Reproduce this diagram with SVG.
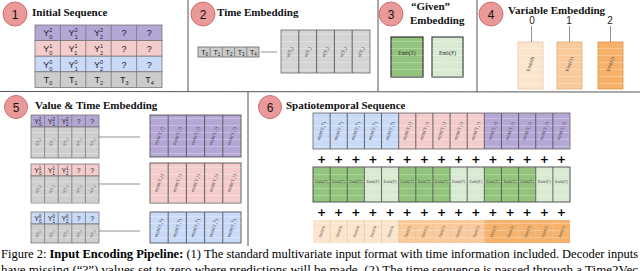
<svg xmlns="http://www.w3.org/2000/svg" width="640" height="271" viewBox="0 0 640 271">
<style>
.ttl{font-family:"Liberation Serif",serif;font-weight:bold;font-size:11px;fill:#111}
.num{font-family:"Liberation Sans",sans-serif;font-size:12px;fill:#111;text-anchor:middle}
.circ{fill:#EA9999;stroke:#C97272;stroke-width:1}
.yv{font-family:"Liberation Sans",sans-serif;font-size:9px;fill:#222}
.ys{font-size:5.5px}
.yq{font-family:"Liberation Sans",sans-serif;font-size:9px;fill:#222;text-anchor:middle}
.sy{font-family:"Liberation Sans",sans-serif;font-size:7px;fill:#222}
.sys{font-size:4.5px}
.sq{font-family:"Liberation Sans",sans-serif;font-size:7px;fill:#222;text-anchor:middle}
.rt{font-family:"Liberation Serif",serif;font-size:5px;fill:#444;text-anchor:middle}
.rts{font-family:"Liberation Serif",serif;font-size:4px;fill:#555;text-anchor:middle}
.et{font-family:"Liberation Serif",serif;font-size:5.5px;fill:#333;text-anchor:middle}
.ets{font-family:"Liberation Serif",serif;font-size:4.2px;fill:#444;text-anchor:middle}
.plus{font-family:"DejaVu Sans",sans-serif;font-weight:bold;font-size:11px;fill:#000;text-anchor:middle}
.div{stroke:#555;stroke-width:1;fill:none}
.cell{stroke:#777;stroke-width:0.8}
.vd{stroke:#555;stroke-width:0.9}
.conn{stroke:#777;stroke-width:0.8;fill:none}
.lab{font-family:"Liberation Sans",sans-serif;font-size:10px;fill:#222;text-anchor:middle}
.cap{font-family:"Liberation Serif",serif;font-size:11.6px;fill:#000}
</style>
<defs>
<pattern id="ln" width="10" height="7" patternUnits="userSpaceOnUse"><line x1="0" y1="6.5" x2="10" y2="6.5" stroke="#ffffff" stroke-opacity="0.45" stroke-width="0.6"/></pattern>
</defs>

<!-- panel dividers -->
<g id="frames">
<line class="div" x1="188" y1="0" x2="188" y2="91.5"/>
<line class="div" x1="378" y1="0" x2="378" y2="91.5"/>
<line class="div" x1="477" y1="0" x2="477" y2="92"/>
<line class="div" x1="0" y1="91.5" x2="640" y2="92"/>
<line class="div" x1="248" y1="91.5" x2="248" y2="246"/>
</g>

<!-- Panel 1 -->
<g id="panel1">
<circle class="circ" cx="15" cy="14" r="12"/><text class="num" x="15" y="18.5">1</text>
<text class="ttl" x="32" y="15.5">Initial Sequence</text>
<g id="table1">
<rect x="35" y="25" width="127" height="15.6" fill="#B4A7D6" class="cell"/>
<rect x="35" y="40.6" width="127" height="15.6" fill="#F4CCCC" class="cell"/>
<rect x="35" y="56.2" width="127" height="15.6" fill="#C9DAF8" class="cell"/>
<rect x="35" y="71.8" width="127" height="15.6" fill="#CCCCCC" class="cell"/>
<line class="cell" x1="60.4" y1="25" x2="60.4" y2="87.4"/>
<line class="cell" x1="85.8" y1="25" x2="85.8" y2="87.4"/>
<line class="cell" x1="111.2" y1="25" x2="111.2" y2="87.4"/>
<line class="cell" x1="136.6" y1="25" x2="136.6" y2="87.4"/>
<text class="yv" x="43.2" y="36.3">Y<tspan class="ys" dy="-4">2</tspan><tspan class="ys" dx="-3" dy="7">0</tspan></text>
<text class="yv" x="68.6" y="36.3">Y<tspan class="ys" dy="-4">2</tspan><tspan class="ys" dx="-3" dy="7">1</tspan></text>
<text class="yv" x="94" y="36.3">Y<tspan class="ys" dy="-4">2</tspan><tspan class="ys" dx="-3" dy="7">2</tspan></text>
<text class="yq" x="123.9" y="36.3">?</text><text class="yq" x="149.3" y="36.3">?</text>
<text class="yv" x="43.2" y="51.9">Y<tspan class="ys" dy="-4">1</tspan><tspan class="ys" dx="-3" dy="7">0</tspan></text>
<text class="yv" x="68.6" y="51.9">Y<tspan class="ys" dy="-4">1</tspan><tspan class="ys" dx="-3" dy="7">1</tspan></text>
<text class="yv" x="94" y="51.9">Y<tspan class="ys" dy="-4">1</tspan><tspan class="ys" dx="-3" dy="7">2</tspan></text>
<text class="yq" x="123.9" y="51.9">?</text><text class="yq" x="149.3" y="51.9">?</text>
<text class="yv" x="43.2" y="67.5">Y<tspan class="ys" dy="-4">0</tspan><tspan class="ys" dx="-3" dy="7">0</tspan></text>
<text class="yv" x="68.6" y="67.5">Y<tspan class="ys" dy="-4">0</tspan><tspan class="ys" dx="-3" dy="7">1</tspan></text>
<text class="yv" x="94" y="67.5">Y<tspan class="ys" dy="-4">0</tspan><tspan class="ys" dx="-3" dy="7">2</tspan></text>
<text class="yq" x="123.9" y="67.5">?</text><text class="yq" x="149.3" y="67.5">?</text>
<text class="yv" x="43.7" y="83">T<tspan class="ys" dy="2">0</tspan></text>
<text class="yv" x="69.1" y="83">T<tspan class="ys" dy="2">1</tspan></text>
<text class="yv" x="94.5" y="83">T<tspan class="ys" dy="2">2</tspan></text>
<text class="yv" x="119.9" y="83">T<tspan class="ys" dy="2">3</tspan></text>
<text class="yv" x="145.3" y="83">T<tspan class="ys" dy="2">4</tspan></text>
</g>
</g>

<!-- Panel 2 -->
<g id="panel2">
<circle class="circ" cx="203" cy="14" r="12"/><text class="num" x="203" y="18.5">2</text>
<text class="ttl" x="217" y="15.5">Time Embedding</text>
<g id="timeSeq">
<rect x="198" y="47" width="61" height="10" fill="#CCCCCC" stroke="#666" stroke-width="0.8"/>
<line class="cell" x1="210.2" y1="47" x2="210.2" y2="57"/>
<line class="cell" x1="222.4" y1="47" x2="222.4" y2="57"/>
<line class="cell" x1="234.6" y1="47" x2="234.6" y2="57"/>
<line class="cell" x1="246.8" y1="47" x2="246.8" y2="57"/>
<text class="sy" x="201.2" y="54.5" font-size="6">T<tspan class="sys" dy="1.5">0</tspan></text>
<text class="sy" x="213.4" y="54.5" font-size="6">T<tspan class="sys" dy="1.5">1</tspan></text>
<text class="sy" x="225.6" y="54.5" font-size="6">T<tspan class="sys" dy="1.5">2</tspan></text>
<text class="sy" x="237.8" y="54.5" font-size="6">T<tspan class="sys" dy="1.5">3</tspan></text>
<text class="sy" x="250" y="54.5" font-size="6">T<tspan class="sys" dy="1.5">4</tspan></text>
</g>
<g id="time2vec">
<rect x="281" y="30" width="89" height="43" fill="#D4D4D4" stroke="#666" stroke-width="0.8"/>
<rect x="281" y="30" width="89" height="43" fill="url(#ln)"/>
<line class="vd" x1="298.8" y1="30" x2="298.8" y2="73"/>
<line class="vd" x1="316.6" y1="30" x2="316.6" y2="73"/>
<line class="vd" x1="334.4" y1="30" x2="334.4" y2="73"/>
<line class="vd" x1="352.2" y1="30" x2="352.2" y2="73"/>
<text class="rt" transform="rotate(-65 289.9 52)" x="289.9" y="53.5">σ(T₀)</text>
<text class="rt" transform="rotate(-65 307.7 52)" x="307.7" y="53.5">σ(T₁)</text>
<text class="rt" transform="rotate(-65 325.5 52)" x="325.5" y="53.5">σ(T₂)</text>
<text class="rt" transform="rotate(-65 343.3 52)" x="343.3" y="53.5">σ(T₃)</text>
<text class="rt" transform="rotate(-65 361.1 52)" x="361.1" y="53.5">σ(T₄)</text>
</g>
</g>

<!-- Panel 3 -->
<g id="panel3">
<circle class="circ" cx="391" cy="14" r="12"/><text class="num" x="391" y="18.5">3</text>
<text class="ttl" x="411" y="10">“Given”</text>
<text class="ttl" x="410" y="23.5">Embedding</text>
<g id="embT"><rect x="391" y="37" width="32" height="40" fill="#93C47D" stroke="#333" stroke-width="1.2"/><rect x="391" y="37" width="32" height="40" fill="url(#ln)"/><text class="et" x="407" y="55">Emb(T)</text></g>
<g id="embF"><rect x="432" y="37" width="31" height="40" fill="#D9EAD3" stroke="#444" stroke-width="1.2"/><rect x="432" y="37" width="31" height="40" fill="url(#ln)"/><text class="et" x="447.5" y="55">Emb(F)</text></g>
</g>

<!-- Panel 4 -->
<g id="panel4">
<circle class="circ" cx="491" cy="14" r="12"/><text class="num" x="491" y="18.5">4</text>
<text class="ttl" x="508" y="14">Variable Embedding</text>
<text class="lab" x="532" y="24">0</text>
<text class="lab" x="569" y="24">1</text>
<text class="lab" x="610" y="24">2</text>
<g id="emb0"><rect x="518" y="42" width="25" height="47" fill="#FCE5CD" stroke="#E8C9A8" stroke-width="0.8"/><rect x="518" y="42" width="25" height="47" fill="url(#ln)"/><text class="rt" transform="rotate(-70 530.5 64)" x="530.5" y="65.5">Emb(0)</text></g>
<g id="emb1"><rect x="557" y="42" width="25" height="47" fill="#F9CB9C" stroke="#E0AC78" stroke-width="0.8"/><rect x="557" y="42" width="25" height="47" fill="url(#ln)"/><text class="rt" transform="rotate(-70 569.5 64)" x="569.5" y="65.5">Emb(1)</text></g>
<g id="emb2"><rect x="598" y="42" width="25" height="47" fill="#F6B26B" stroke="#D9914A" stroke-width="0.8"/><rect x="598" y="42" width="25" height="47" fill="url(#ln)"/><text class="rt" transform="rotate(-70 610.5 64)" x="610.5" y="65.5">Emb(2)</text></g>
</g>

<!-- Panel 5 -->
<g id="panel5">
<circle class="circ" cx="16" cy="107" r="11.5"/><text class="num" x="16" y="111.5">5</text>
<text class="ttl" x="35" y="108.5">Value &amp; Time Embedding</text>
<g id="in2">
<rect x="31" y="115" width="68" height="12" fill="#B4A7D6" class="cell"/>
<rect x="31" y="127" width="68" height="31" fill="#CFCFCF" class="cell"/>
<rect x="31" y="127" width="68" height="31" fill="url(#ln)"/>
<path class="cell" d="M44.6 115V158M58.2 115V158M71.8 115V158M85.4 115V158"/>
<text class="sy" x="34.2" y="123.5">Y<tspan class="sys" dy="-3">2</tspan><tspan class="sys" dx="-2.5" dy="5.5">0</tspan></text>
<text class="sy" x="47.8" y="123.5">Y<tspan class="sys" dy="-3">2</tspan><tspan class="sys" dx="-2.5" dy="5.5">1</tspan></text>
<text class="sy" x="61.4" y="123.5">Y<tspan class="sys" dy="-3">2</tspan><tspan class="sys" dx="-2.5" dy="5.5">2</tspan></text>
<text class="sq" x="78.6" y="123.5">?</text><text class="sq" x="92.2" y="123.5">?</text>
<text class="rts" transform="rotate(-60 37.8 142)" x="37.8" y="143.5">σ(T₀)</text>
<text class="rts" transform="rotate(-60 51.4 142)" x="51.4" y="143.5">σ(T₁)</text>
<text class="rts" transform="rotate(-60 65 142)" x="65" y="143.5">σ(T₂)</text>
<text class="rts" transform="rotate(-60 78.6 142)" x="78.6" y="143.5">σ(T₃)</text>
<text class="rts" transform="rotate(-60 92.2 142)" x="92.2" y="143.5">σ(T₄)</text>
</g>
<g id="in1">
<rect x="31" y="164" width="68" height="12" fill="#F4CCCC" class="cell"/>
<rect x="31" y="176" width="68" height="27" fill="#CFCFCF" class="cell"/>
<rect x="31" y="176" width="68" height="27" fill="url(#ln)"/>
<path class="cell" d="M44.6 164V203M58.2 164V203M71.8 164V203M85.4 164V203"/>
<text class="sy" x="34.2" y="172.5">Y<tspan class="sys" dy="-3">1</tspan><tspan class="sys" dx="-2.5" dy="5.5">0</tspan></text>
<text class="sy" x="47.8" y="172.5">Y<tspan class="sys" dy="-3">1</tspan><tspan class="sys" dx="-2.5" dy="5.5">1</tspan></text>
<text class="sy" x="61.4" y="172.5">Y<tspan class="sys" dy="-3">1</tspan><tspan class="sys" dx="-2.5" dy="5.5">2</tspan></text>
<text class="sq" x="78.6" y="172.5">?</text><text class="sq" x="92.2" y="172.5">?</text>
<text class="rts" transform="rotate(-60 37.8 189)" x="37.8" y="190.5">σ(T₀)</text>
<text class="rts" transform="rotate(-60 51.4 189)" x="51.4" y="190.5">σ(T₁)</text>
<text class="rts" transform="rotate(-60 65 189)" x="65" y="190.5">σ(T₂)</text>
<text class="rts" transform="rotate(-60 78.6 189)" x="78.6" y="190.5">σ(T₃)</text>
<text class="rts" transform="rotate(-60 92.2 189)" x="92.2" y="190.5">σ(T₄)</text>
</g>
<g id="in0">
<rect x="31" y="212" width="68" height="12" fill="#C9DAF8" class="cell"/>
<rect x="31" y="224" width="68" height="19" fill="#CFCFCF" class="cell"/>
<rect x="31" y="224" width="68" height="19" fill="url(#ln)"/>
<path class="cell" d="M44.6 212V243M58.2 212V243M71.8 212V243M85.4 212V243"/>
<text class="sy" x="34.2" y="220.5">Y<tspan class="sys" dy="-3">0</tspan><tspan class="sys" dx="-2.5" dy="5.5">0</tspan></text>
<text class="sy" x="47.8" y="220.5">Y<tspan class="sys" dy="-3">0</tspan><tspan class="sys" dx="-2.5" dy="5.5">1</tspan></text>
<text class="sy" x="61.4" y="220.5">Y<tspan class="sys" dy="-3">0</tspan><tspan class="sys" dx="-2.5" dy="5.5">2</tspan></text>
<text class="sq" x="78.6" y="220.5">?</text><text class="sq" x="92.2" y="220.5">?</text>
<text class="rts" transform="rotate(-60 37.8 233.5)" x="37.8" y="235">σ(T₀)</text>
<text class="rts" transform="rotate(-60 51.4 233.5)" x="51.4" y="235">σ(T₁)</text>
<text class="rts" transform="rotate(-60 65 233.5)" x="65" y="235">σ(T₂)</text>
<text class="rts" transform="rotate(-60 78.6 233.5)" x="78.6" y="235">σ(T₃)</text>
<text class="rts" transform="rotate(-60 92.2 233.5)" x="92.2" y="235">σ(T₄)</text>
</g>
<g id="out2">
<rect x="150" y="115" width="91" height="42" fill="#B4A7D6" stroke="#555" stroke-width="0.9"/>
<rect x="150" y="115" width="91" height="42" fill="url(#ln)"/>
<path class="vd" d="M168.2 115V157M186.4 115V157M204.6 115V157M222.8 115V157"/>
<text class="rt" transform="rotate(-70 159.1 136)" x="159.1" y="137.5">emb(Y₀²)</text>
<text class="rt" transform="rotate(-70 177.3 136)" x="177.3" y="137.5">emb(Y₁²)</text>
<text class="rt" transform="rotate(-70 195.5 136)" x="195.5" y="137.5">emb(Y₂²)</text>
<text class="rt" transform="rotate(-70 213.7 136)" x="213.7" y="137.5">emb(Y₃²)</text>
<text class="rt" transform="rotate(-70 231.9 136)" x="231.9" y="137.5">emb(Y₄²)</text>
</g>
<g id="out1">
<rect x="150" y="163" width="91" height="40" fill="#F4CCCC" stroke="#555" stroke-width="0.9"/>
<rect x="150" y="163" width="91" height="40" fill="url(#ln)"/>
<path class="vd" d="M168.2 163V203M186.4 163V203M204.6 163V203M222.8 163V203"/>
<text class="rt" transform="rotate(-70 159.1 183)" x="159.1" y="184.5">emb(Y₀¹)</text>
<text class="rt" transform="rotate(-70 177.3 183)" x="177.3" y="184.5">emb(Y₁¹)</text>
<text class="rt" transform="rotate(-70 195.5 183)" x="195.5" y="184.5">emb(Y₂¹)</text>
<text class="rt" transform="rotate(-70 213.7 183)" x="213.7" y="184.5">emb(Y₃¹)</text>
<text class="rt" transform="rotate(-70 231.9 183)" x="231.9" y="184.5">emb(Y₄¹)</text>
</g>
<g id="out0">
<rect x="150" y="212" width="91" height="31" fill="#C9DAF8" stroke="#555" stroke-width="0.9"/>
<rect x="150" y="212" width="91" height="31" fill="url(#ln)"/>
<path class="vd" d="M168.2 212V243M186.4 212V243M204.6 212V243M222.8 212V243"/>
<text class="rt" transform="rotate(-70 159.1 228)" x="159.1" y="229.5">emb(Y₀⁰)</text>
<text class="rt" transform="rotate(-70 177.3 228)" x="177.3" y="229.5">emb(Y₁⁰)</text>
<text class="rt" transform="rotate(-70 195.5 228)" x="195.5" y="229.5">emb(Y₂⁰)</text>
<text class="rt" transform="rotate(-70 213.7 228)" x="213.7" y="229.5">emb(Y₃⁰)</text>
<text class="rt" transform="rotate(-70 231.9 228)" x="231.9" y="229.5">emb(Y₄⁰)</text>
</g>
</g>

<!-- Panel 6 -->
<g id="panel6">
<circle class="circ" cx="270" cy="107" r="11.5"/><text class="num" x="270" y="111.5">6</text>
<text class="ttl" x="286" y="108.5">Spatiotemporal Sequence</text>
<g id="seqValue">
<rect x="313" y="113" width="85.67" height="36" fill="#C9DAF8"/>
<rect x="398.67" y="113" width="85.67" height="36" fill="#F4CCCC"/>
<rect x="484.33" y="113" width="85.67" height="36" fill="#B4A7D6"/>
<rect x="313" y="113" width="257" height="36" fill="url(#ln)"/>
<rect x="313" y="113" width="257" height="36" fill="none" stroke="#666" stroke-width="0.8"/>
<path class="vd" stroke="#777" d="M330.13 113V149M347.27 113V149M364.4 113V149M381.53 113V149M398.67 113V149M415.8 113V149M432.93 113V149M450.07 113V149M467.2 113V149M484.33 113V149M501.47 113V149M518.6 113V149M535.73 113V149M552.87 113V149"/>
<text class="rt" transform="rotate(-70 321.57 131)" x="321.57" y="132.5">emb(Y₀⁰)</text>
<text class="rt" transform="rotate(-70 338.7 131)" x="338.7" y="132.5">emb(Y₁⁰)</text>
<text class="rt" transform="rotate(-70 355.83 131)" x="355.83" y="132.5">emb(Y₂⁰)</text>
<text class="rt" transform="rotate(-70 372.97 131)" x="372.97" y="132.5">emb(Y₃⁰)</text>
<text class="rt" transform="rotate(-70 390.1 131)" x="390.1" y="132.5">emb(Y₄⁰)</text>
<text class="rt" transform="rotate(-70 407.23 131)" x="407.23" y="132.5">emb(Y₀¹)</text>
<text class="rt" transform="rotate(-70 424.37 131)" x="424.37" y="132.5">emb(Y₁¹)</text>
<text class="rt" transform="rotate(-70 441.5 131)" x="441.5" y="132.5">emb(Y₂¹)</text>
<text class="rt" transform="rotate(-70 458.63 131)" x="458.63" y="132.5">emb(Y₃¹)</text>
<text class="rt" transform="rotate(-70 475.77 131)" x="475.77" y="132.5">emb(Y₄¹)</text>
<text class="rt" transform="rotate(-70 492.9 131)" x="492.9" y="132.5">emb(Y₀²)</text>
<text class="rt" transform="rotate(-70 510.03 131)" x="510.03" y="132.5">emb(Y₁²)</text>
<text class="rt" transform="rotate(-70 527.17 131)" x="527.17" y="132.5">emb(Y₂²)</text>
<text class="rt" transform="rotate(-70 544.3 131)" x="544.3" y="132.5">emb(Y₃²)</text>
<text class="rt" transform="rotate(-70 561.43 131)" x="561.43" y="132.5">emb(Y₄²)</text>
</g>
<g id="plus1">
<text class="plus" x="321.57" y="163">+</text><text class="plus" x="338.7" y="163">+</text><text class="plus" x="355.83" y="163">+</text><text class="plus" x="372.97" y="163">+</text><text class="plus" x="390.1" y="163">+</text><text class="plus" x="407.23" y="163">+</text><text class="plus" x="424.37" y="163">+</text><text class="plus" x="441.5" y="163">+</text><text class="plus" x="458.63" y="163">+</text><text class="plus" x="475.77" y="163">+</text><text class="plus" x="492.9" y="163">+</text><text class="plus" x="510.03" y="163">+</text><text class="plus" x="527.17" y="163">+</text><text class="plus" x="544.3" y="163">+</text><text class="plus" x="561.43" y="163">+</text>
</g>
<g id="seqGiven">
<rect x="313" y="167" width="51.4" height="35" fill="#93C47D"/>
<rect x="364.4" y="167" width="34.27" height="35" fill="#D9EAD3"/>
<rect x="398.67" y="167" width="51.4" height="35" fill="#93C47D"/>
<rect x="450.07" y="167" width="34.27" height="35" fill="#D9EAD3"/>
<rect x="484.33" y="167" width="51.4" height="35" fill="#93C47D"/>
<rect x="535.73" y="167" width="34.27" height="35" fill="#D9EAD3"/>
<rect x="313" y="167" width="257" height="35" fill="url(#ln)"/>
<rect x="313" y="167" width="257" height="35" fill="none" stroke="#555" stroke-width="1"/>
<path class="vd" stroke="#444" d="M330.13 167V202M347.27 167V202M364.4 167V202M381.53 167V202M398.67 167V202M415.8 167V202M432.93 167V202M450.07 167V202M467.2 167V202M484.33 167V202M501.47 167V202M518.6 167V202M535.73 167V202M552.87 167V202"/>
<text class="ets" x="321.57" y="182.5">Emb(T)</text><text class="ets" x="338.7" y="182.5">Emb(T)</text><text class="ets" x="355.83" y="182.5">Emb(T)</text><text class="ets" x="372.97" y="182.5">Emb(F)</text><text class="ets" x="390.1" y="182.5">Emb(F)</text><text class="ets" x="407.23" y="182.5">Emb(T)</text><text class="ets" x="424.37" y="182.5">Emb(T)</text><text class="ets" x="441.5" y="182.5">Emb(T)</text><text class="ets" x="458.63" y="182.5">Emb(F)</text><text class="ets" x="475.77" y="182.5">Emb(F)</text><text class="ets" x="492.9" y="182.5">Emb(T)</text><text class="ets" x="510.03" y="182.5">Emb(T)</text><text class="ets" x="527.17" y="182.5">Emb(T)</text><text class="ets" x="544.3" y="182.5">Emb(F)</text><text class="ets" x="561.43" y="182.5">Emb(F)</text>
</g>
<g id="plus2">
<text class="plus" x="321.57" y="216">+</text><text class="plus" x="338.7" y="216">+</text><text class="plus" x="355.83" y="216">+</text><text class="plus" x="372.97" y="216">+</text><text class="plus" x="390.1" y="216">+</text><text class="plus" x="407.23" y="216">+</text><text class="plus" x="424.37" y="216">+</text><text class="plus" x="441.5" y="216">+</text><text class="plus" x="458.63" y="216">+</text><text class="plus" x="475.77" y="216">+</text><text class="plus" x="492.9" y="216">+</text><text class="plus" x="510.03" y="216">+</text><text class="plus" x="527.17" y="216">+</text><text class="plus" x="544.3" y="216">+</text><text class="plus" x="561.43" y="216">+</text>
</g>
<g id="seqVar">
<rect x="313" y="220" width="85.67" height="23" fill="#FCE5CD"/>
<rect x="398.67" y="220" width="85.67" height="23" fill="#F9CB9C"/>
<rect x="484.33" y="220" width="85.67" height="23" fill="#F6B26B"/>
<rect x="313" y="220" width="257" height="23" fill="url(#ln)"/>
<path stroke="#E3C4A4" stroke-width="0.7" d="M330.13 220V243M347.27 220V243M364.4 220V243M381.53 220V243M398.67 220V243M415.8 220V243M432.93 220V243M450.07 220V243M467.2 220V243M484.33 220V243M501.47 220V243M518.6 220V243M535.73 220V243M552.87 220V243"/>
<text class="rts" transform="rotate(-70 321.57 231.5)" x="321.57" y="233">Emb(0)</text><text class="rts" transform="rotate(-70 338.7 231.5)" x="338.7" y="233">Emb(0)</text><text class="rts" transform="rotate(-70 355.83 231.5)" x="355.83" y="233">Emb(0)</text><text class="rts" transform="rotate(-70 372.97 231.5)" x="372.97" y="233">Emb(0)</text><text class="rts" transform="rotate(-70 390.1 231.5)" x="390.1" y="233">Emb(0)</text>
<text class="rts" transform="rotate(-70 407.23 231.5)" x="407.23" y="233">Emb(1)</text><text class="rts" transform="rotate(-70 424.37 231.5)" x="424.37" y="233">Emb(1)</text><text class="rts" transform="rotate(-70 441.5 231.5)" x="441.5" y="233">Emb(1)</text><text class="rts" transform="rotate(-70 458.63 231.5)" x="458.63" y="233">Emb(1)</text><text class="rts" transform="rotate(-70 475.77 231.5)" x="475.77" y="233">Emb(1)</text>
<text class="rts" transform="rotate(-70 492.9 231.5)" x="492.9" y="233">Emb(2)</text><text class="rts" transform="rotate(-70 510.03 231.5)" x="510.03" y="233">Emb(2)</text><text class="rts" transform="rotate(-70 527.17 231.5)" x="527.17" y="233">Emb(2)</text><text class="rts" transform="rotate(-70 544.3 231.5)" x="544.3" y="233">Emb(2)</text><text class="rts" transform="rotate(-70 561.43 231.5)" x="561.43" y="233">Emb(2)</text>
</g>
</g>

<!-- connectors -->
<g id="connectors">
<line class="conn" x1="261" y1="52" x2="277" y2="52"/>
<line class="conn" x1="531.5" y1="26" x2="531.5" y2="42"/>
<line class="conn" x1="569.5" y1="26" x2="569.5" y2="42"/>
<line class="conn" x1="610.5" y1="26" x2="610.5" y2="42"/>
<line class="conn" x1="99" y1="137" x2="140" y2="137"/>
<line class="conn" x1="99" y1="184" x2="140" y2="184"/>
<line class="conn" x1="99" y1="231" x2="140" y2="231"/>
</g>

<!-- caption -->
<g id="caption">
<text class="cap" x="1" y="258" textLength="637" lengthAdjust="spacingAndGlyphs">Figure 2: <tspan font-weight="bold">Input Encoding Pipeline:</tspan> (1) The standard multivariate input format with time information included. Decoder inputs</text>
<text class="cap" x="1" y="274" textLength="637" lengthAdjust="spacingAndGlyphs">have missing (“?”) values set to zero where predictions will be made. (2) The time sequence is passed through a Time2Vec</text>
</g>
</svg>
